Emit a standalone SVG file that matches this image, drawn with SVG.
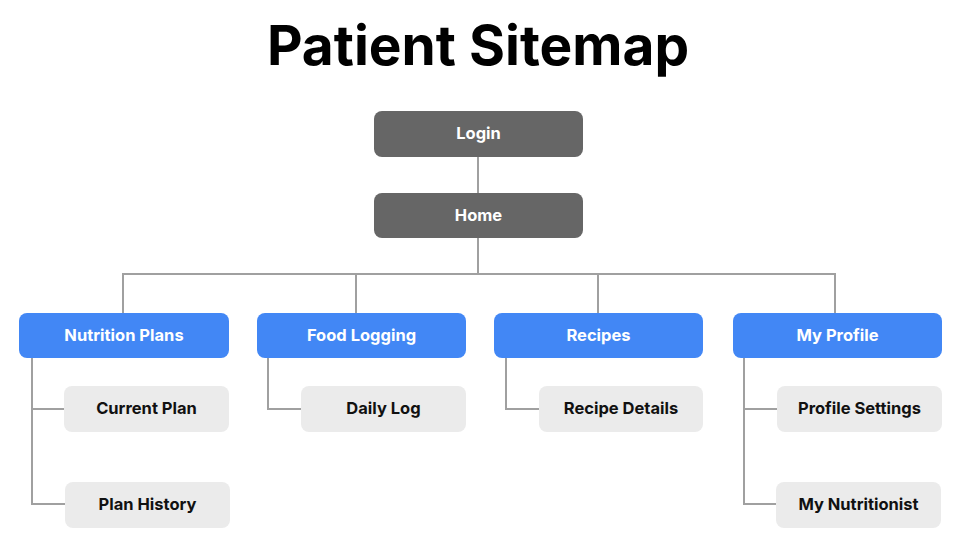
<svg xmlns="http://www.w3.org/2000/svg" width="960" height="558" viewBox="0 0 960 558">
  <style>
    text { font-family: Inter, "Liberation Sans", sans-serif; font-weight: 700; text-anchor: middle; dominant-baseline: central; }
    .title { font-size: 55px; fill: #000; }
    .root rect { fill: #666666; }
    .root text { fill: #ffffff; font-size: 16.5px; }
    .section rect { fill: #4287f5; }
    .section text { fill: #ffffff; font-size: 16.5px; }
    .page rect { fill: #ebebeb; }
    .page text { fill: #111111; font-size: 16.5px; }
    .links path { fill: none; stroke: #a0a0a0; stroke-width: 2; }
  </style>
  <rect width="960" height="558" fill="#ffffff"/>
  <text class="title" x="478" y="45">Patient Sitemap</text>

  <g class="links">
    <path d="M478 157 V193"/>
    <path d="M478 238 V274"/>
    <path d="M123 313 V274 H835 V313"/>
    <path d="M356 274 V313"/>
    <path d="M598 274 V313"/>
    <path d="M32 358 V504 H65 M32 409 H64"/>
    <path d="M268 358 V409 H301"/>
    <path d="M506 358 V409 H539"/>
    <path d="M744 358 V504 H776 M744 409 H777"/>
  </g>

  <g id="login" class="root"><rect x="374" y="111" width="209" height="46" rx="8"/><text x="478.5" y="133">Login</text></g>
  <g id="home" class="root"><rect x="374" y="193" width="209" height="45" rx="8"/><text x="478.5" y="214.5">Home</text></g>

  <g id="nutrition-plans" class="section"><rect x="19" y="313" width="210" height="45" rx="8"/><text x="124" y="334.5">Nutrition Plans</text></g>
  <g id="food-logging" class="section"><rect x="257" y="313" width="209" height="45" rx="8"/><text x="361.5" y="334.5">Food Logging</text></g>
  <g id="recipes" class="section"><rect x="494" y="313" width="209" height="45" rx="8"/><text x="598.5" y="334.5">Recipes</text></g>
  <g id="my-profile" class="section"><rect x="733" y="313" width="209" height="45" rx="8"/><text x="837.5" y="334.5">My Profile</text></g>

  <g id="current-plan" class="page"><rect x="64" y="386" width="165" height="46" rx="8"/><text x="146.5" y="408">Current Plan</text></g>
  <g id="plan-history" class="page"><rect x="65" y="482" width="165" height="46" rx="8"/><text x="147.5" y="504">Plan History</text></g>
  <g id="daily-log" class="page"><rect x="301" y="386" width="165" height="46" rx="8"/><text x="383.5" y="408">Daily Log</text></g>
  <g id="recipe-details" class="page"><rect x="539" y="386" width="164" height="46" rx="8"/><text x="621" y="408">Recipe Details</text></g>
  <g id="profile-settings" class="page"><rect x="777" y="386" width="165" height="46" rx="8"/><text x="859.5" y="408">Profile Settings</text></g>
  <g id="my-nutritionist" class="page"><rect x="776" y="482" width="165" height="46" rx="8"/><text x="858.5" y="504">My Nutritionist</text></g>
</svg>
